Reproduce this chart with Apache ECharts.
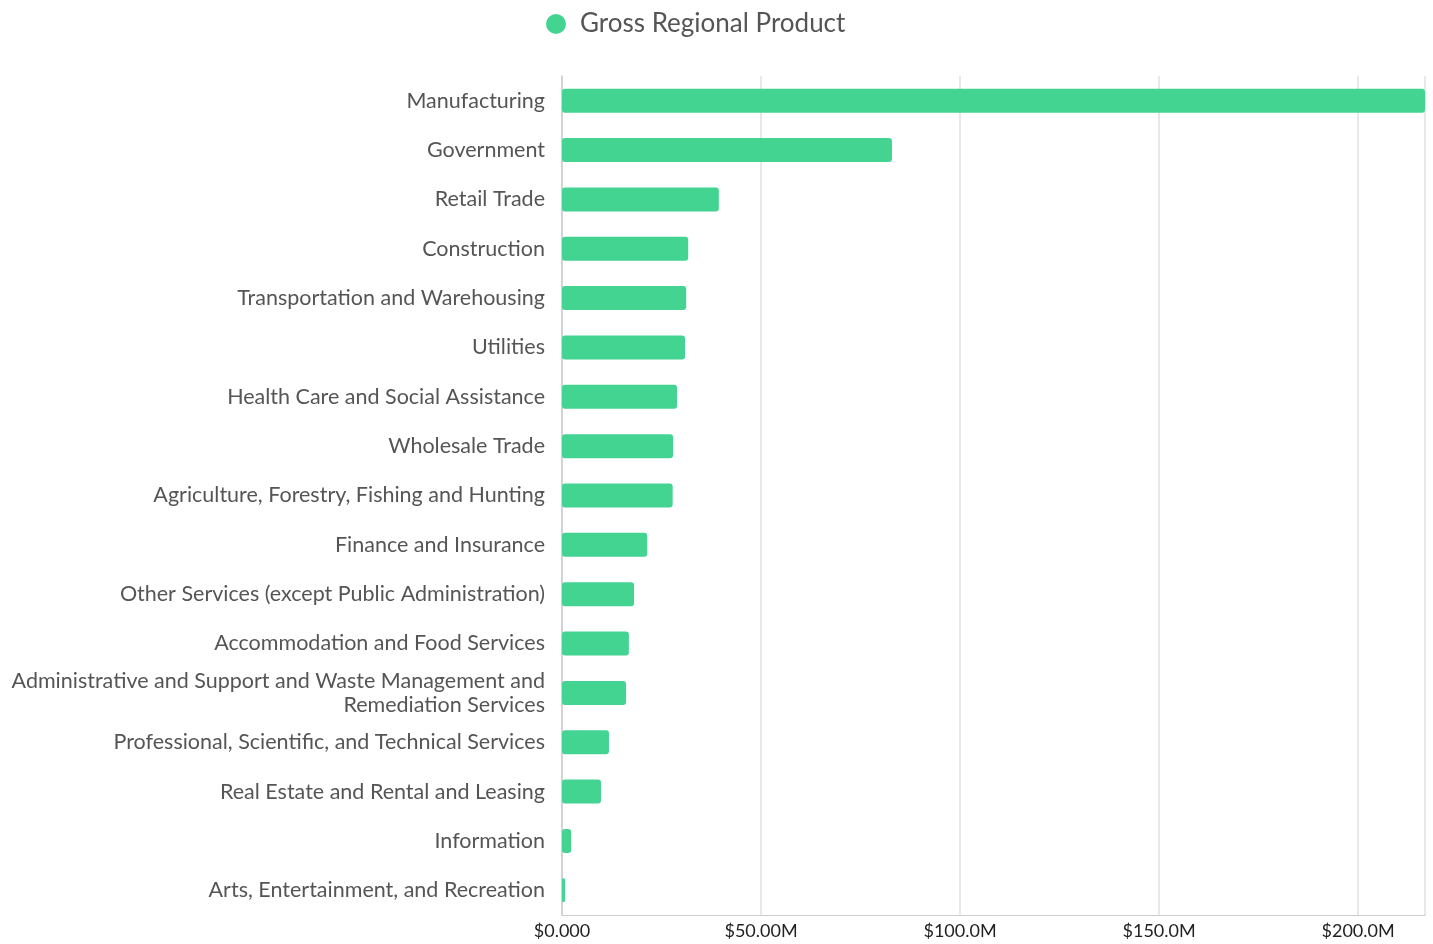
<!DOCTYPE html>
<html>
<head>
<meta charset="utf-8">
<script src="https://cdn.jsdelivr.net/npm/echarts@6/dist/echarts.min.js"></script>
<style>html,body{margin:0;padding:0;background:#fff}#c{width:1433px;height:944px}</style>
</head>
<body>
<div id="c"></div>
<script>
const categories = [
  "Manufacturing",
  "Government",
  "Retail Trade",
  "Construction",
  "Transportation and Warehousing",
  "Utilities",
  "Health Care and Social Assistance",
  "Wholesale Trade",
  "Agriculture, Forestry, Fishing and Hunting",
  "Finance and Insurance",
  "Other Services (except Public Administration)",
  "Accommodation and Food Services",
  "Administrative and Support and Waste Management and Remediation Services",
  "Professional, Scientific, and Technical Services",
  "Real Estate and Rental and Leasing",
  "Information",
  "Arts, Entertainment, and Recreation"
];
const grossRegionalProduct = [216.8, 82.9, 39.4, 31.7, 31.2, 30.9, 28.9, 27.9, 27.8, 21.4, 18.1, 16.8, 16.1, 11.8, 9.8, 2.3, 0.75];
const seriesName = "Gross Regional Product";

function fmt(v) {
  if (v === 0) return "$0.000";
  const s = v.toPrecision(4);
  return "$" + s + "M";
}

function wrap(label) {
  const maxChars = 54;
  if (label.length <= maxChars) return label;
  const cut = label.lastIndexOf(' ', maxChars);
  return label.slice(0, cut) + '\n' + label.slice(cut + 1);
}

const chart = echarts.init(document.getElementById('c'));
chart.setOption({
  animation: false,
  textStyle: { fontFamily: 'Lato' },
  legend: {
    top: 6,
    left: 541,
    icon: 'circle',
    itemWidth: 20,
    itemHeight: 20,
    itemGap: 10,
    textStyle: { fontSize: 26, color: '#555', fontFamily: 'Lato', padding: [0, 0, 0, 9] },
    data: [seriesName]
  },
  grid: { left: 562, right: 8, top: 76, bottom: 29, outerBoundsMode: 'none', containLabel: false },
  xAxis: {
    type: 'value',
    min: 0,
    max: 'dataMax',
    interval: 50,
    axisLine: { show: true, lineStyle: { color: '#ccc' } },
    axisTick: { show: false },
    splitLine: { show: true, lineStyle: { color: '#e0e0e0', width: 1.5 } },
    axisLabel: {
      formatter: fmt, fontSize: 18, color: '#222', fontFamily: 'Lato', margin: 7,
      showMaxLabel: false
    }
  },
  yAxis: {
    type: 'category',
    inverse: true,
    data: categories,
    axisLine: { show: true, lineStyle: { color: '#ccc', width: 1.5 } },
    axisTick: { show: false },
    axisLabel: {
      fontSize: 21.5, color: '#555', fontFamily: 'Lato', margin: 17,
      lineHeight: 24, align: 'right', formatter: wrap
    }
  },
  series: [{
    name: seriesName,
    type: 'bar',
    data: grossRegionalProduct,
    barWidth: 24,
    itemStyle: { color: '#43D492', borderRadius: 3 }
  }]
});
</script>
</body>
</html>
